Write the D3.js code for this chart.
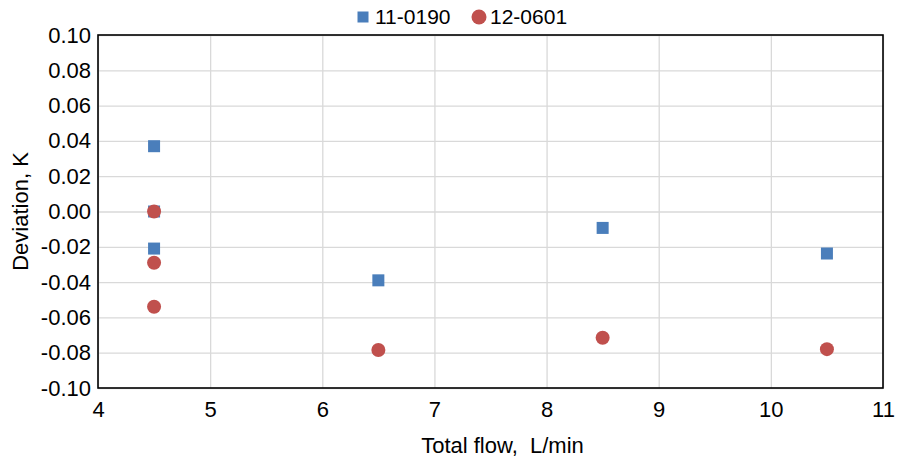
<!DOCTYPE html>
<html>
<head>
<meta charset="utf-8">
<script src="https://cdn.jsdelivr.net/npm/d3@7"></script>
<style>
  body { margin: 0; background: #fff; }
  text { font-family: "Liberation Sans", Arial, sans-serif; fill: #000; }
</style>
</head>
<body>
<svg width="898" height="461"></svg>
<script>
  var seriesNames = ['11-0190', '12-0601']
  var seriesColors = ['#4a7ebb', '#c0504d']

  // flow, deviation
  var flow0190 = [4.5, 4.5, 4.5, 6.5, 8.5, 10.5]
  var dev0190 = [0.037, 0.000, -0.021, -0.039, -0.0093, -0.0238]
  var flow0601 = [4.5, 4.5, 4.5, 6.5, 8.5, 10.5]
  var dev0601 = [0.000, -0.029, -0.054, -0.0785, -0.0715, -0.078]

  var xTicks = [4, 5, 6, 7, 8, 9, 10, 11]
  var yTicks = [0.10, 0.08, 0.06, 0.04, 0.02, 0.00, -0.02, -0.04, -0.06, -0.08, -0.10]

  var svg = d3.select('svg')
  var m = {left: 98, right: 15, top: 35, bottom: 73}
  var w = 898 - m.left - m.right
  var h = 461 - m.top - m.bottom

  var x = d3.scaleLinear().domain([4, 11]).range([0, w])
  var y = d3.scaleLinear().domain([-0.1, 0.1]).range([h, 0])

  var fmtY = function(d) { return d3.format('.2f')(d).replace('\u2212', '-') }

  var g = svg.append('g').attr('transform', 'translate(' + m.left + ',' + m.top + ')')

  // grid
  g.append('g')
    .attr('transform', 'translate(0,' + h + ')')
    .call(d3.axisBottom(x).tickValues(xTicks).tickSize(-h).tickFormat(''))
    .call(function(s) {
      s.select('.domain').remove()
      s.selectAll('line').attr('stroke', '#d9d9d9').attr('stroke-width', 1.3)
    })
  g.append('g')
    .call(d3.axisLeft(y).tickValues(yTicks).tickSize(-w).tickFormat(''))
    .call(function(s) {
      s.select('.domain').remove()
      s.selectAll('line').attr('stroke', '#d9d9d9').attr('stroke-width', 1.3)
    })

  // tick labels
  g.append('g')
    .attr('transform', 'translate(0,' + h + ')')
    .call(d3.axisBottom(x).tickValues(xTicks).tickSize(0).tickPadding(13).tickFormat(d3.format('d')))
    .call(function(s) {
      s.select('.domain').remove()
      s.selectAll('text').style('font-size', '22px').style('font-family', '"Liberation Sans", Arial, sans-serif')
    })
  g.append('g')
    .call(d3.axisLeft(y).tickValues(yTicks).tickSize(0).tickPadding(7).tickFormat(fmtY))
    .call(function(s) {
      s.select('.domain').remove()
      s.selectAll('text').style('font-size', '22px').style('font-family', '"Liberation Sans", Arial, sans-serif')
    })

  // frame
  g.append('rect')
    .attr('width', w).attr('height', h)
    .attr('fill', 'none').attr('stroke', '#000').attr('stroke-width', 1.6)

  // series 11-0190: squares
  var pts0190 = flow0190.map(function(f, i) { return {x: f, y: dev0190[i]} })
  g.selectAll('.sq').data(pts0190).enter().append('rect')
    .attr('class', 'sq')
    .attr('x', function(d) { return x(d.x) - 6 })
    .attr('y', function(d) { return y(d.y) - 6 })
    .attr('width', 12).attr('height', 12)
    .attr('fill', seriesColors[0])

  // series 12-0601: circles
  var pts0601 = flow0601.map(function(f, i) { return {x: f, y: dev0601[i]} })
  g.selectAll('.ci').data(pts0601).enter().append('circle')
    .attr('class', 'ci')
    .attr('cx', function(d) { return x(d.x) })
    .attr('cy', function(d) { return y(d.y) })
    .attr('r', 7)
    .attr('fill', seriesColors[1])

  // axis titles
  svg.append('text')
    .attr('x', m.left + w / 2 + 12).attr('y', 453)
    .attr('text-anchor', 'middle')
    .style('font-size', '22px')
    .style('white-space', 'pre')
    .text('Total flow,  L/min')
  svg.append('text')
    .attr('transform', 'translate(28,' + (m.top + h / 2) + ') rotate(-90)')
    .attr('text-anchor', 'middle')
    .style('font-size', '22px')
    .text('Deviation, K')

  // legend
  var leg = svg.append('g').attr('transform', 'translate(363,17)')
  leg.append('rect').attr('x', -5.5).attr('y', -5.5).attr('width', 11).attr('height', 11).attr('fill', seriesColors[0])
  leg.append('text').attr('x', 12).attr('y', 6.5).style('font-size', '21px').text(seriesNames[0])
  leg.append('circle').attr('cx', 116).attr('cy', 0).attr('r', 7.5).attr('fill', seriesColors[1])
  leg.append('text').attr('x', 127).attr('y', 6.5).style('font-size', '21px').text(seriesNames[1])
</script>
</body>
</html>
